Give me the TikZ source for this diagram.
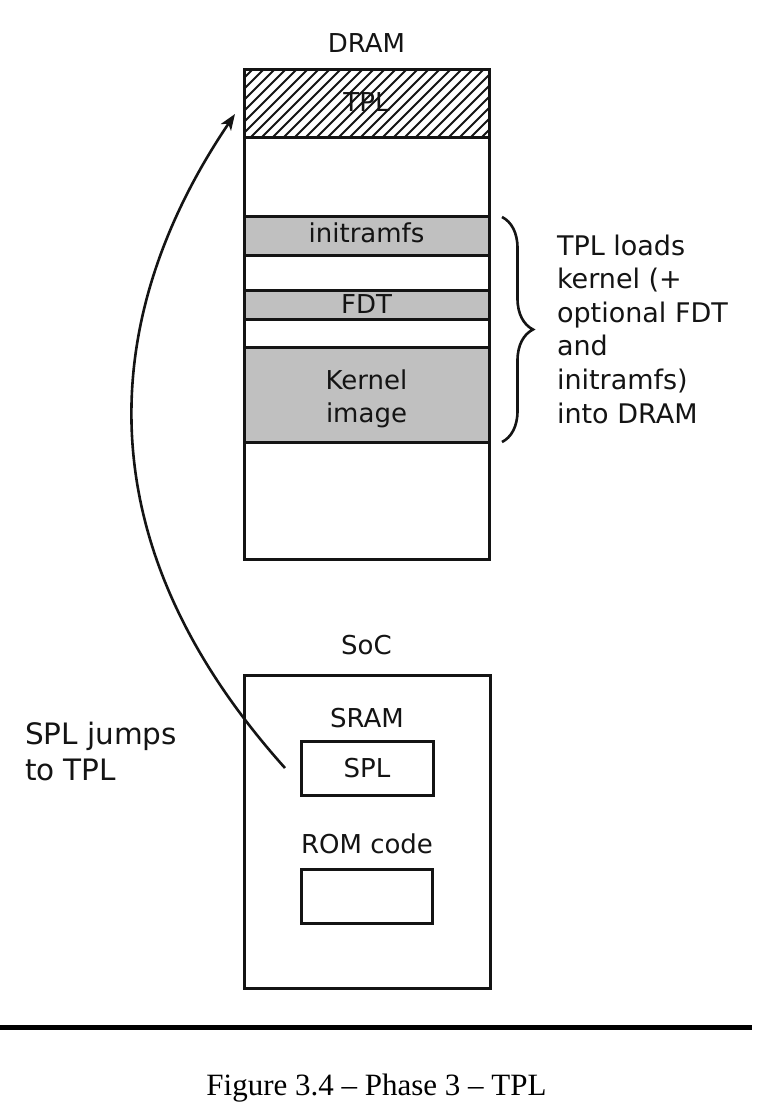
\documentclass[tikz,border=0pt]{standalone}
\usepackage{fontspec}
\setmainfont{DejaVu Sans}
\newfontfamily\capfont{Liberation Serif}
\usetikzlibrary{arrows.meta,decorations.pathreplacing}
\definecolor{ink}{RGB}{20,20,20}
\definecolor{regiongray}{RGB}{192,192,192}
\begin{document}
\begin{tikzpicture}[x=1pt,y=-1pt,
  every node/.style={inner sep=0pt, outer sep=0pt},
  frame/.style={draw=ink, line width=3pt},
  region/.style={frame, minimum width=245pt, anchor=north west},
  lbl/.style={anchor=base, text=ink, font=\fontsize{26}{26}\selectfont},
  side/.style={anchor=base west, text=ink, align=left},
  conn/.style={draw=ink, line width=2.6pt, -{Stealth[length=16pt,width=12pt,inset=4pt]}},
  bracestyle/.style={draw=ink, line width=2.6pt, decorate, decoration={brace, amplitude=31pt, aspect=0.5}}
]
\useasboundingbox (0,0) rectangle (768,1114);
\fill[white] (0,0) rectangle (768,1114);

% DRAM column
\node[lbl] (dramlbl) at (366.5,52) {DRAM};
\node[region, minimum height=490pt] (dram) at (244,69) {};
\node[lbl] (tpltext) at (366.5,111) {TPL};
\node[region, minimum height=68pt, draw=none] (tpl) at (244,69) {};
\begin{scope}
  \clip (tpl.south west) rectangle (tpl.north east);
  \foreach \i in {-70,-59,...,250}
    \draw[draw=ink, line width=2pt] ([xshift=\i pt]tpl.south west) -- ++(68,-68);
\end{scope}
\draw[frame] (tpl.south west) rectangle (tpl.north east);
\node[region, fill=regiongray, minimum height=39pt] (initrd) at (244,216) {};
\node[lbl] (initrdtext) at (366.5,242) {initramfs};
\node[region, fill=regiongray, minimum height=29pt] (fdt) at (244,290) {};
\node[lbl] (fdttext) at (366.5,313) {FDT};
\node[region, fill=regiongray, minimum height=95pt] (kernel) at (244,347) {};
\node[lbl] (kerneltext1) at (366.5,389) {Kernel};
\node[lbl] (kerneltext2) at (366.5,422) {image};
\draw[frame] (dram.south west) rectangle (dram.north east);

% brace and its text
\coordinate (bracetop) at (502,217);
\coordinate (bracebot) at (502,442);
\draw[bracestyle] (bracetop) -- (bracebot);
\node[side, font=\fontsize{27}{33.6}\selectfont] (loads) at (557,423)
  {TPL loads\\kernel (+\\optional FDT\\and\\initramfs)\\into DRAM};

% SoC
\node[lbl] (soclbl) at (366.5,654) {SoC};
\node[frame, minimum width=246pt, minimum height=313pt, anchor=north west] (soc) at (244,675) {};
\node[lbl] (sramlbl) at (367,727) {SRAM};
\node[frame, minimum width=132pt, minimum height=54pt, anchor=north west] (spl) at (301,741) {};
\node[lbl] (spltext) at (367,777) {SPL};
\node[lbl] (romlbl) at (367,853) {ROM code};
\node[frame, minimum width=131pt, minimum height=54pt, anchor=north west] (rom) at (301,869) {};

% jump arrow
\node[side, font=\fontsize{29.5}{36}\selectfont] (jumps) at (25,780) {SPL jumps\\to TPL};
\draw[conn] ([xshift=-16pt]spl.west) .. controls (45,500) and (135,262) .. ([xshift=-9pt,yshift=-11pt]tpl.west);

% caption
\coordinate (ruleL) at (0,1027);
\coordinate (ruleR) at (752,1027);
\draw[line width=5pt, draw=black] (ruleL) -- (ruleR);
\node[anchor=base, font=\capfont\fontsize{31}{31}\selectfont] (caption) at (376.5,1095) {Figure 3.4 – Phase 3 – TPL};
\end{tikzpicture}
\end{document}
